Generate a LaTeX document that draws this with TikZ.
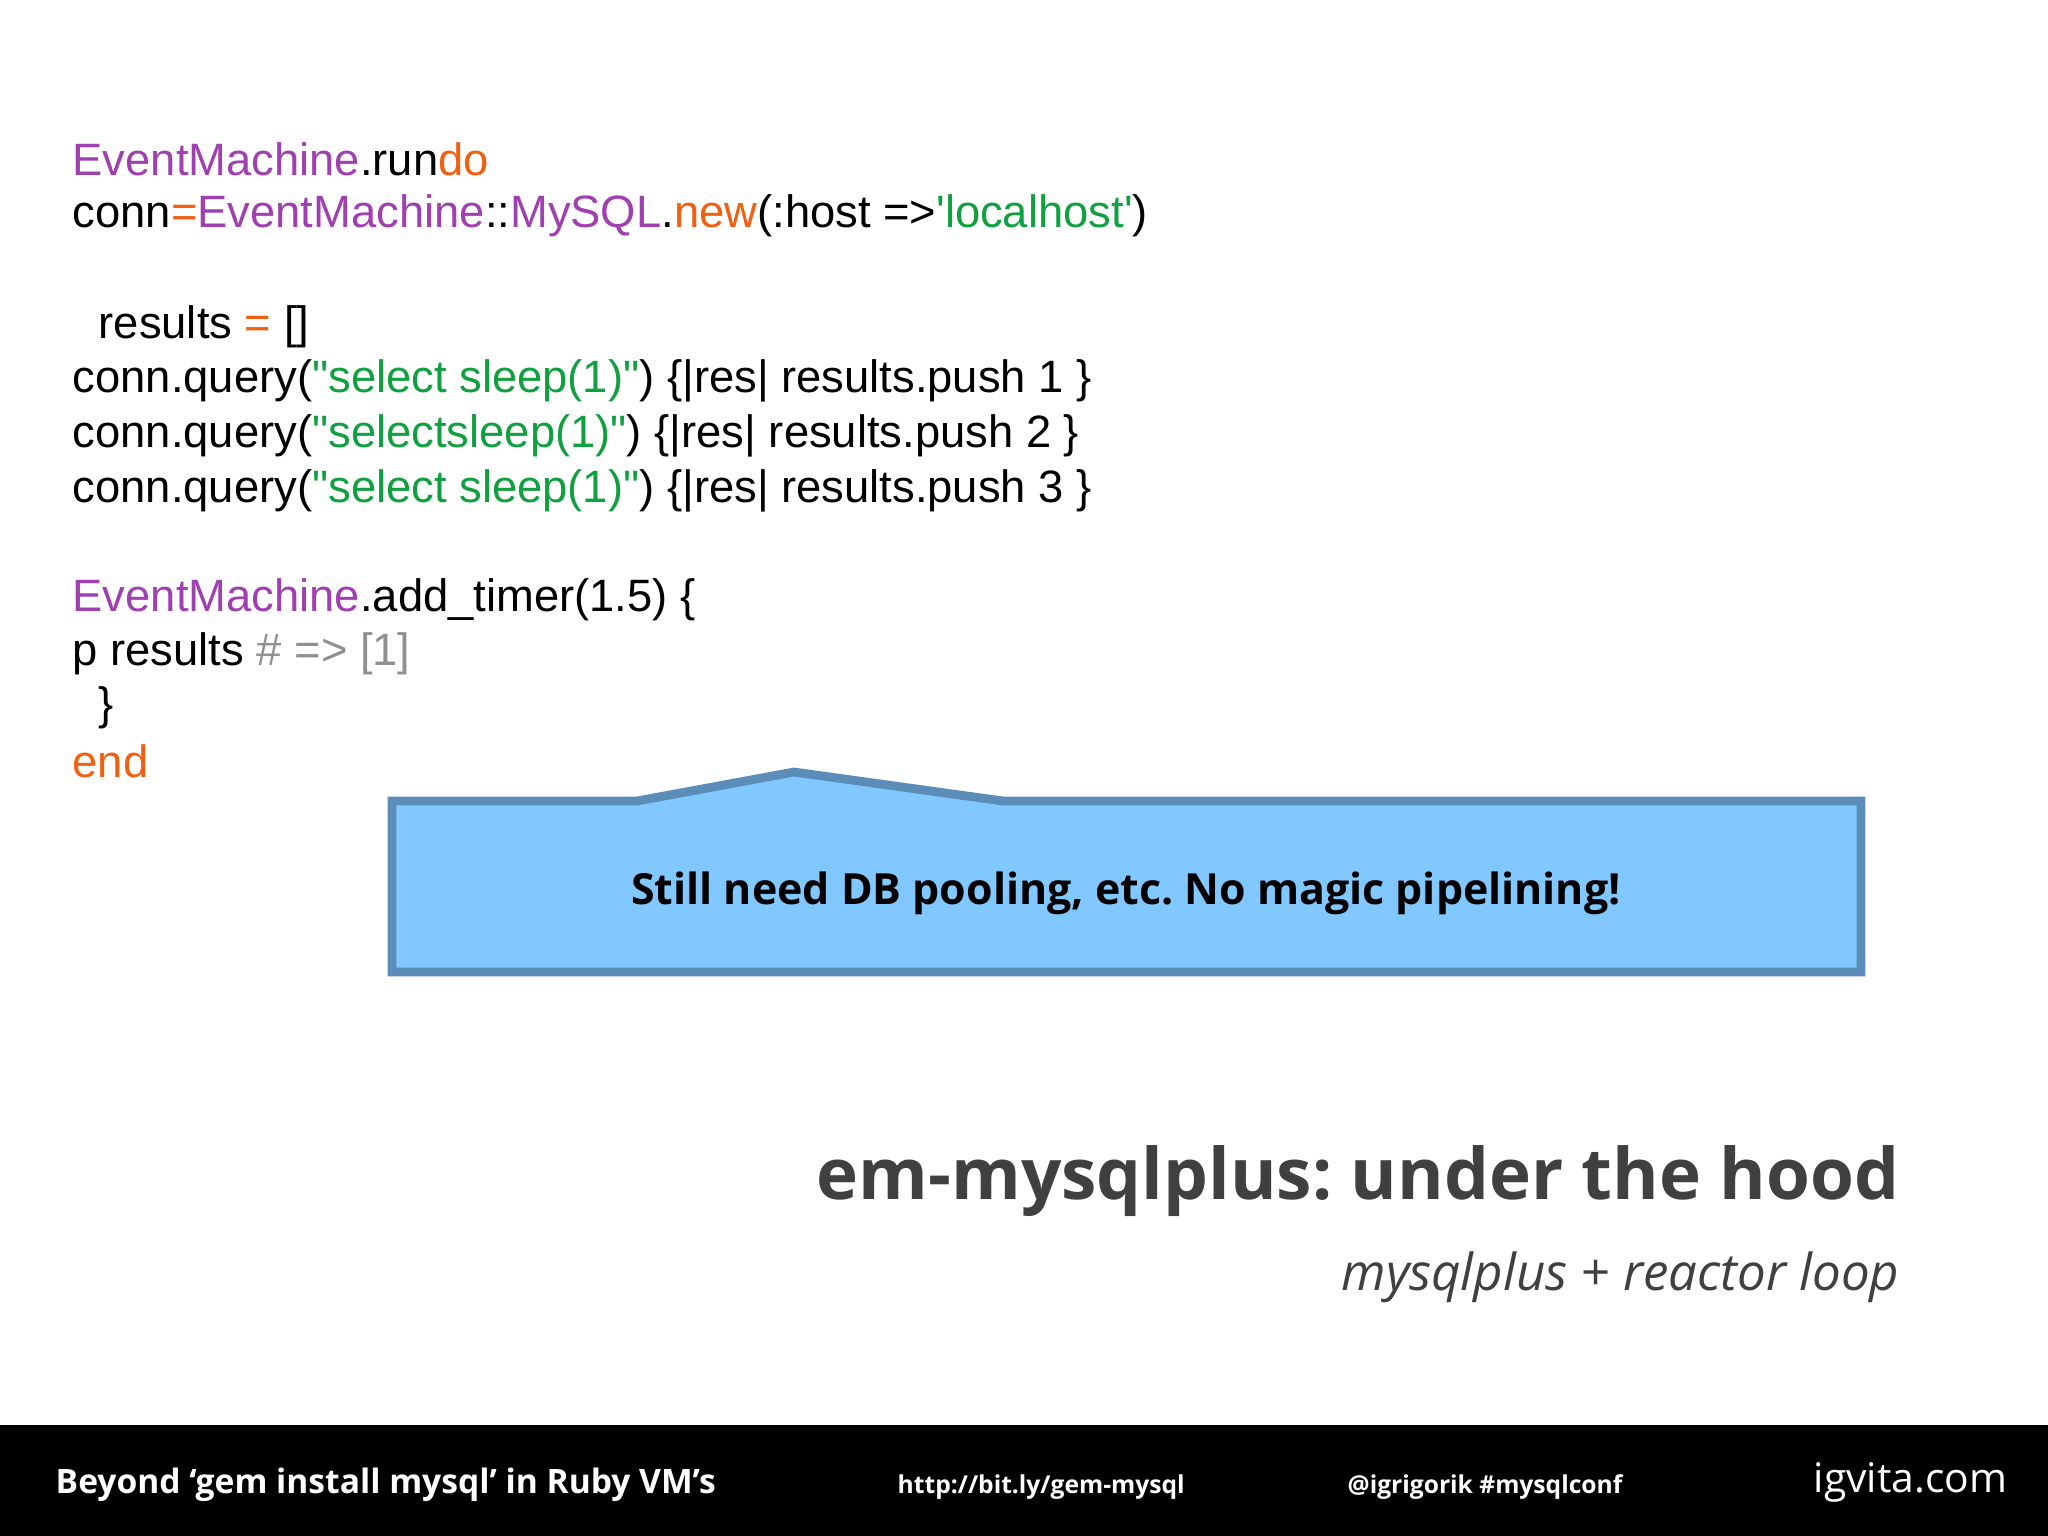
\documentclass[tikz,border=0pt]{standalone}
\usepackage{fontspec}
\setmainfont{Liberation Sans}[Ligatures=TeXOff]
\newfontfamily\osfont{Open Sans}
\frenchspacing
\definecolor{pur}{HTML}{A040B0}
\definecolor{org}{HTML}{F06010}
\definecolor{grn}{HTML}{10A040}
\definecolor{gry}{HTML}{909090}
\definecolor{boxfill}{HTML}{80C8FF}
\definecolor{boxline}{HTML}{5B8DB8}
\definecolor{ttl}{HTML}{404040}
\begin{document}
\begin{tikzpicture}[x=0.01cm,y=-0.01cm,
  code/.style={anchor=west,inner sep=0pt,font=\fontsize{12.9pt}{14pt}\selectfont},
  foot/.style={inner sep=0pt,text=white,font=\osfont\bfseries\fontsize{7pt}{9pt}\selectfont}]
\useasboundingbox (0,0) rectangle (2048,1536);
\node[code] (l1) at (72,159) {\textcolor{pur}{EventMachine}.run\textcolor{org}{do}};
\node[code] (l2) at (72,216) {conn\textcolor{org}{=}\textcolor{pur}{EventMachine}::\textcolor{pur}{MySQL}.\textcolor{org}{new}(:host =>\textcolor{grn}{'localhost'})};
\node[code] (l3) at (98,327) {results \textcolor{org}{=} []};
\node[code] (l4) at (72,381) {conn.query(\textcolor{grn}{"select sleep(1)"}) \{|res| results.push 1 \}};
\node[code] (l5) at (72,436) {conn.query(\textcolor{grn}{"selectsleep(1)"}) \{|res| results.push 2 \}};
\node[code] (l6) at (72,491) {conn.query(\textcolor{grn}{"select sleep(1)"}) \{|res| results.push 3 \}};
\node[code] (l7) at (72,600) {\textcolor{pur}{EventMachine}.add\_timer(1.5) \{};
\node[code] (l8) at (72,654) {p results \textcolor{gry}{\# => [1]}};
\node[code] (l9) at (98,708) {\}};
\node[code] (l10) at (72,761) {\textcolor{org}{end}};
\draw[fill=boxfill,draw=boxline,line width=2.5pt] (392,801) -- (637,801) -- (794,772) -- (1003,801) -- (1861,801) -- (1861,972) -- (392,972) -- cycle;
\node[inner sep=0pt,font=\osfont\bfseries\fontsize{12.2pt}{15pt}\selectfont] (msg) at (1126,893) {Still need DB pooling, etc. No magic pipelining!};
\node[anchor=east,inner sep=0pt,text=ttl,font=\osfont\bfseries\fontsize{20.2pt}{25pt}\selectfont] (title) at (1900,1181) {em-mysqlplus: under the hood};
\node[anchor=east,inner sep=0pt,text=ttl,font=\osfont\itshape\fontsize{14.5pt}{17pt}\selectfont] (sub) at (1900,1277) {mysqlplus + reactor loop};
\fill[black] (0,1425) rectangle (2048,1536);
\node[foot,anchor=west,font=\osfont\bfseries\fontsize{9.55pt}{12pt}\selectfont] (f1) at (55,1485) {Beyond ‘gem install mysql’ in Ruby VM’s};
\node[foot,anchor=west] (f2) at (897,1487) {http://bit.ly/gem-mysql};
\node[foot,anchor=west] (f3) at (1347,1487) {@igrigorik \#mysqlconf};
\node[foot,anchor=west,font=\osfont\fontsize{11.6pt}{14pt}\selectfont] (f4) at (1813,1482) {igvita.com};
\end{tikzpicture}
\end{document}
